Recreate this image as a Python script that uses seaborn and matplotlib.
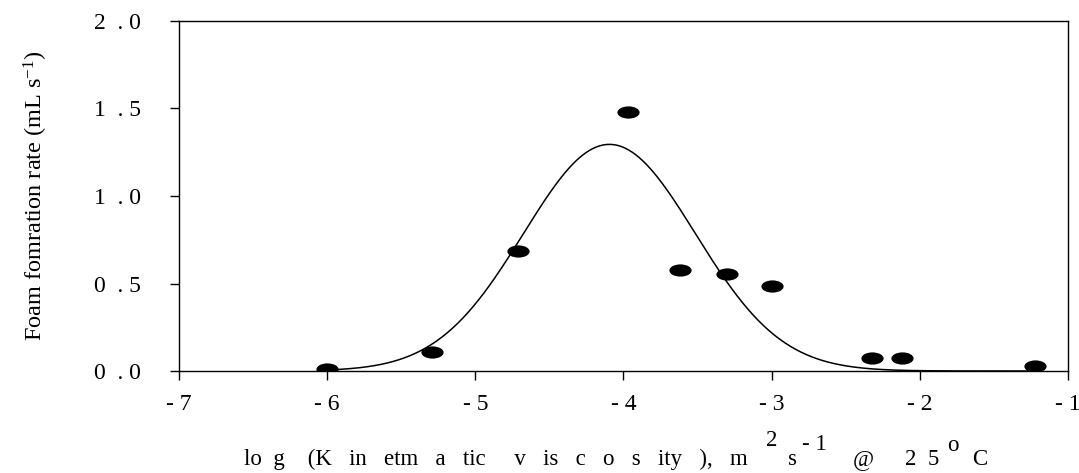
import numpy as np
import pandas as pd
import matplotlib
matplotlib.use('Agg')
import matplotlib.pyplot as plt
from matplotlib.path import Path
from matplotlib.transforms import Affine2D
import seaborn as sns

# measured points
log_visc = [-6.00, -5.29, -4.71, -3.97, -3.62, -3.30, -3.00, -2.32, -2.12, -1.22]
foam_rate = [0.01, 0.107, 0.686, 1.482, 0.577, 0.554, 0.488, 0.072, 0.072, 0.029]

# gaussian fit (peak height, centre, width)
fit_amp = 1.295
fit_x0 = -4.095
fit_sigma = 0.58
fit_range = [-6.0, -1.2]

xticks = [-7, -6, -5, -4, -3, -2, -1]
xtick_labels = ['- 7', '- 6', '- 5', '- 4', '- 3', '- 2', '- 1']
yticks = [0.0, 0.5, 1.0, 1.5, 2.0]
ytick_labels = ['0  . 0', '0  . 5', '1  . 0', '1  . 5', '2  . 0']

ylabel = 'Foam fomration rate (mL s$^{-1}$)'
# x label pieces: text, x px (first one is right-aligned), baseline px
xlabel_parts = [
    ('lo  g    (K   in   etm   a   tic     v   is   c   o   s   ity   ),   m', 748, 465),
    ('2', 766, 446),
    ('s', 788, 465),
    ('- 1', 802, 450),
    ('@', 853, 465),
    ('2  5', 905, 465),
    ('o', 947, 451),
    ('C', 972, 465),
]

df = pd.DataFrame({'x': log_visc, 'y': foam_rate})
xf = np.linspace(fit_range[0], fit_range[1], 400)
fit = pd.DataFrame({'x': xf, 'y': fit_amp * np.exp(-(xf - fit_x0) ** 2 / (2 * fit_sigma ** 2))})

sns.set_theme(style='ticks')
plt.rcParams['font.family'] = ['Liberation Serif', 'DejaVu Serif']
plt.rcParams['mathtext.fontset'] = 'custom'
plt.rcParams['mathtext.rm'] = 'Liberation Serif'
plt.rcParams['mathtext.it'] = 'Liberation Serif'

W, H = 1079, 473
ellipse = Path.unit_circle().transformed(Affine2D().scale(1.0, 0.55))

fig = plt.figure(figsize=(W / 100, H / 100), dpi=100)
ax = fig.add_axes([179 / W, (H - 371) / H, 889 / W, 350 / H])

sns.lineplot(data=fit, x='x', y='y', color='black', linewidth=1.1, ax=ax)
sns.scatterplot(data=df, x='x', y='y', marker=ellipse, s=16 ** 2, color='black',
                edgecolor='black', linewidth=0, ax=ax, zorder=3)

ax.set_xlim(-7, -1)
ax.set_ylim(0, 2)
ax.set_xticks(xticks)
ax.set_xticklabels(xtick_labels)
ax.set_yticks(yticks)
ax.set_yticklabels(ytick_labels)
ax.tick_params(axis='both', direction='out', length=6.5, width=1, color='black',
               labelsize=17, labelcolor='black')
ax.tick_params(axis='y', pad=21)
ax.tick_params(axis='x', pad=10)
for s in ax.spines.values():
    s.set_visible(True)
    s.set_linewidth(1)
    s.set_color('black')

ax.set_ylabel(ylabel, fontsize=17.5, color='black')
ax.yaxis.set_label_coords(-0.145, 0.5)
ax.set_xlabel('')

for i, (txt, px, py) in enumerate(xlabel_parts):
    ha = 'right' if i == 0 else 'left'
    fig.text(px / W, (H - py) / H, txt, ha=ha, va='baseline', fontsize=16.5, color='black')

fig.savefig('out.png', dpi=100)
